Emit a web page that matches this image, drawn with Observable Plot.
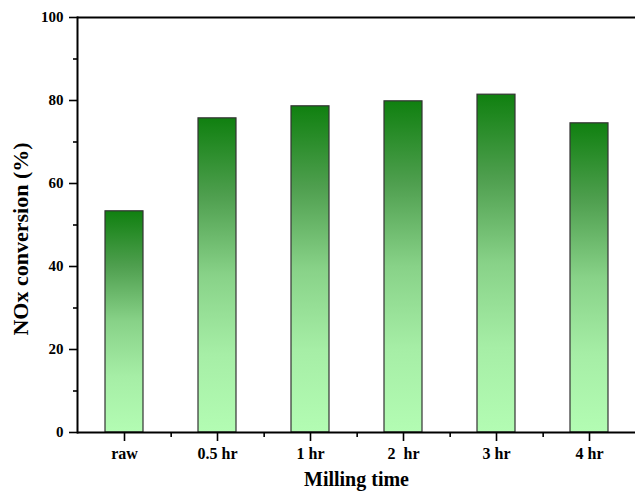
<!DOCTYPE html>
<html><head><meta charset="utf-8">
<script src="https://cdn.jsdelivr.net/npm/d3@7"></script>
<script src="https://cdn.jsdelivr.net/npm/@observablehq/plot@0.6"></script>
<style>
body{margin:0;background:#fff;}
svg text{white-space:pre;}
</style>
</head><body><div id="chart"></div>
<script>
const categories = ["raw", "0.5 hr", "1 hr", "2  hr", "3 hr", "4 hr"];
const conversion = [53.3, 75.7, 78.6, 79.8, 81.4, 74.5];
const yMajorTicks = [0, 20, 40, 60, 80, 100];
const yMinorTicks = [10, 30, 50, 70, 90];
const xLabel = "Milling time";
const yLabel = "NOx conversion (%)";

const data = categories.map((c, i) => ({time: c, value: conversion[i]}));

const W = 635, H = 497, ML = 77, MT = 17, MB = 65;
const xRange = [ML, 637];
const step = (xRange[1] - xRange[0]) / categories.length;
const font = "'Liberation Serif', 'Times New Roman', serif";

const chart = Plot.plot({
  width: W, height: H,
  marginTop: MT, marginLeft: ML, marginRight: 0, marginBottom: MB,
  style: {fontFamily: font, fontWeight: "bold", color: "#000", background: "#fff"},
  x: {domain: categories, range: xRange, paddingInner: 0.59, paddingOuter: 0.295, axis: null},
  y: {domain: [0, 100], axis: null},
  marks: [
    Plot.barY(data, {x: "time", y: "value", fill: "url(#barGrad)", stroke: "#333", strokeWidth: 1.2}),
    Plot.axisY({ticks: yMajorTicks, tickSize: 8, tickPadding: 6, fontSize: 15, label: null, strokeWidth: 1.6}),
    Plot.axisY({ticks: yMinorTicks, tickSize: 4, tickFormat: () => "", label: null, strokeWidth: 1.6}),
    Plot.axisX({ticks: categories, tickSize: 9, tickPadding: 6, fontSize: 16, label: null, strokeWidth: 1.6}),
    Plot.axisX({ticks: categories.slice(0, -1), tickSize: 5, dx: step / 2, tickFormat: () => "", label: null, strokeWidth: 1.6}),
    Plot.ruleY([0], {strokeWidth: 2}),
    Plot.ruleY([100], {strokeWidth: 2}),
    Plot.frame({anchor: "left", strokeWidth: 2}),
    Plot.text([xLabel], {frameAnchor: "bottom", dy: 53.6, fontSize: 20, fontWeight: "bold", text: d => d}),
    Plot.text([yLabel], {frameAnchor: "left", textAnchor: "middle", dx: -57, dy: 14, rotate: -90, fontSize: 22, fontWeight: "bold", text: d => d})
  ]
});

d3.select(chart).insert("defs", ":first-child").html(
  `<linearGradient id="barGrad" x1="0" y1="0" x2="0" y2="1">
     <stop offset="0" stop-color="#108010"/>
     <stop offset="0.25" stop-color="#4f9f4f"/>
     <stop offset="0.5" stop-color="#88d288"/>
     <stop offset="0.75" stop-color="#a6eea6"/>
     <stop offset="1" stop-color="#b3fcb3"/>
   </linearGradient>`
);
document.getElementById("chart").appendChild(chart);
</script>
</body></html>
